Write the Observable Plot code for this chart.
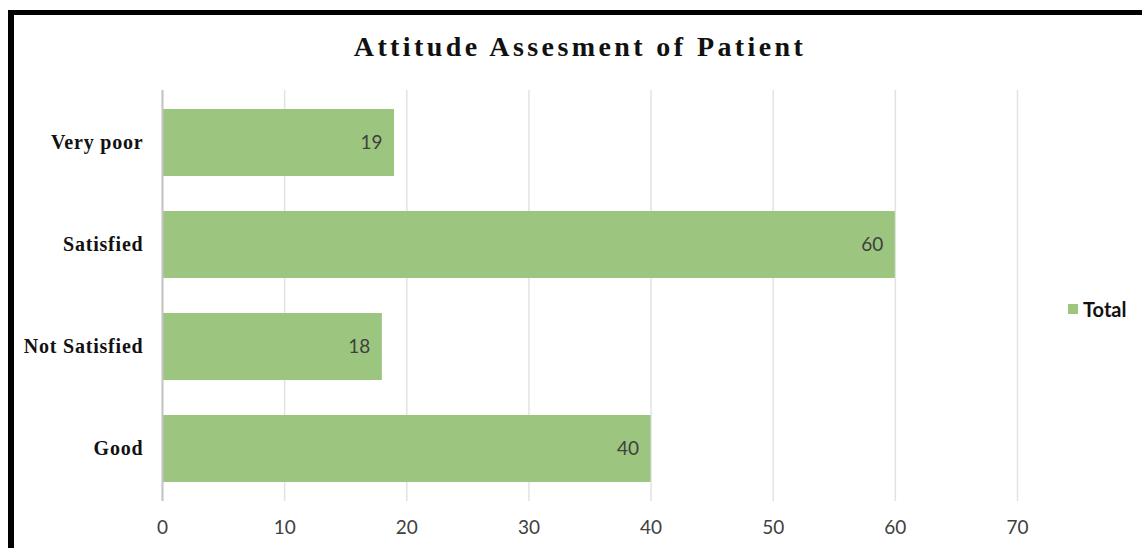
<!DOCTYPE html>
<html>
<head>
<meta charset="utf-8">
<script src="https://cdn.jsdelivr.net/npm/d3@7"></script>
<script src="https://cdn.jsdelivr.net/npm/@observablehq/plot@0.6"></script>
<style>
  html, body { margin: 0; padding: 0; background: #fff; }
  #wrap { position: relative; width: 1142px; height: 548px; overflow: hidden; }
  #frame { position: absolute; left: 8px; top: 10px; width: 1200px; height: 600px;
           border-left: 6px solid #000; border-top: 5px solid #000; box-sizing: border-box; }
  #title { position: absolute; left: 0; width: 1160px; top: 31px; text-align: center;
           font-family: "Liberation Serif", serif; font-weight: bold; font-size: 28px;
           letter-spacing: 3.4px; color: #111; }
  #legend { position: absolute; left: 1068px; top: 297px; font-family: Lato, "Open Sans", sans-serif;
            font-weight: bold; font-size: 20px; color: #111; display: flex; align-items: center; }
  #legend span.sw { display: inline-block; width: 10px; height: 10px; background: #9cc57f; margin-right: 5px; }
  #chart { position: absolute; left: 0; top: 0; }
  #chart g[aria-label="y-axis tick label"] text { letter-spacing: 0.8px; }
</style>
</head>
<body>
<div id="wrap">
  <div id="chart"></div>
  <div id="frame"></div>
  <div id="title">Attitude Assesment of Patient</div>
  <div id="legend"><span class="sw"></span>Total</div>
</div>
<script>
// Patient attitude categories, top to bottom, with their totals
const categories = ["Very poor", "Satisfied", "Not Satisfied", "Good"];
const totals = [19, 60, 18, 40];
const xTicks = [0, 10, 20, 30, 40, 50, 60, 70];

const rows = categories.map((c, i) => ({category: c, total: totals[i]}));
const barColor = "#9cc57f";
const numFont = "Lato, 'Open Sans', sans-serif";

const chart = Plot.plot({
  width: 1142,
  height: 548,
  marginLeft: 162,
  marginRight: 125,
  marginTop: 90,
  marginBottom: 47,
  style: {background: "transparent"},
  x: {domain: [0, 70]},
  y: {domain: categories, paddingInner: 0.34, paddingOuter: 0.17},
  marks: [
    Plot.gridX(xTicks, {stroke: "#e2e2e2", strokeOpacity: 1, strokeWidth: 1.5}),
    Plot.barX(rows, {x: "total", y: "category", fill: barColor}),
    Plot.ruleX([0], {stroke: "#c4c4c4", strokeWidth: 2}),
    Plot.text(rows, {x: "total", y: "category", text: d => String(d.total), textAnchor: "end", dx: -12,
      fill: "#404040", fontSize: 19, fontFamily: numFont}),
    Plot.axisX({ticks: xTicks, tickSize: 0, tickPadding: 19, label: null,
      fontSize: 19, fontFamily: numFont, fill: "#404040"}),
    Plot.axisY({tickSize: 0, tickPadding: 19, label: null,
      fontSize: 20, fontWeight: "bold", fontFamily: "'Liberation Serif', serif", fill: "#111"})
  ]
});
document.getElementById("chart").appendChild(chart);
</script>
</body>
</html>
